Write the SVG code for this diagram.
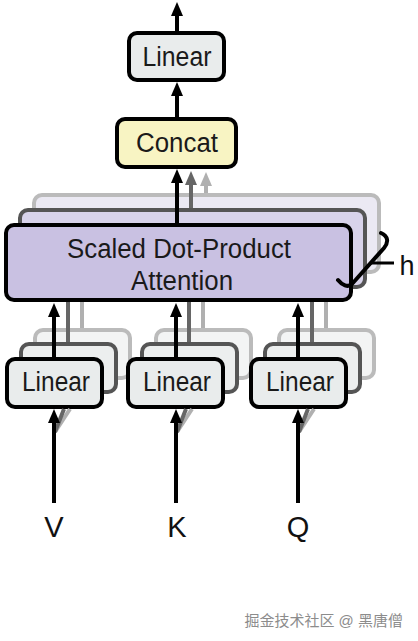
<svg xmlns="http://www.w3.org/2000/svg" width="418" height="641" viewBox="0 0 418 641">
<style>
.box{stroke:#000;stroke-width:4}
.lin{fill:#e9ecec}
.b2{stroke:#555;stroke-width:4}
.b3{stroke:#bbb;stroke-width:4}
.lin2{fill:#eceeee}
.lin3{fill:#f3f4f4}
.att{fill:#c9c1e2}
.att2{fill:#d8d3ea}
.att3{fill:#ebe9f3}
.t{font-family:"Liberation Sans",Arial,sans-serif;font-size:27px;fill:#1a1a1a;text-anchor:middle}
.big{font-family:"Liberation Sans",Arial,sans-serif;font-size:29px;fill:#111;text-anchor:middle}
.k{stroke:#000;stroke-width:4;fill:none}
.g1{stroke:#666;stroke-width:4;fill:none}
.g2{stroke:#b0b0b0;stroke-width:4;fill:none}
</style>
<defs>
<marker id="ak" viewBox="0 -6 14 12" refX="1" refY="0" markerWidth="14" markerHeight="12" markerUnits="userSpaceOnUse" orient="auto"><path d="M0,-6 L14,0 L0,6 z" fill="#000"/></marker>
<marker id="ag1" viewBox="0 -6 14 12" refX="1" refY="0" markerWidth="14" markerHeight="12" markerUnits="userSpaceOnUse" orient="auto"><path d="M0,-6 L14,0 L0,6 z" fill="#666"/></marker>
<marker id="ag2" viewBox="0 -6 14 12" refX="1" refY="0" markerWidth="14" markerHeight="12" markerUnits="userSpaceOnUse" orient="auto"><path d="M0,-6 L14,0 L0,6 z" fill="#b0b0b0"/></marker>
</defs>

<g id="attention">
<rect class="b3 att3" x="34" y="195" width="345" height="77" rx="8"/>
<rect class="b2 att2" x="20" y="210" width="345" height="77" rx="8"/>
<rect class="box att" x="6" y="225" width="345" height="75" rx="8"/>
<text class="t" x="179" y="258" textLength="224" lengthAdjust="spacingAndGlyphs">Scaled Dot-Product</text>
<text class="t" x="182" y="290" textLength="102" lengthAdjust="spacingAndGlyphs">Attention</text>
</g>

<g id="linear-v">
<rect class="b3 lin3" x="35" y="330" width="95" height="48" rx="8"/>
<rect class="b2 lin2" x="21" y="344" width="95" height="48" rx="8"/>
<rect class="box lin" x="7" y="359" width="95" height="48" rx="8"/>
<text class="t" x="56" y="391" textLength="68" lengthAdjust="spacingAndGlyphs">Linear</text>
</g>
<g id="linear-k">
<rect class="b3 lin3" x="156" y="330" width="95" height="48" rx="8"/>
<rect class="b2 lin2" x="142" y="344" width="95" height="48" rx="8"/>
<rect class="box lin" x="128" y="359" width="95" height="48" rx="8"/>
<text class="t" x="177" y="391" textLength="68" lengthAdjust="spacingAndGlyphs">Linear</text>
</g>
<g id="linear-q">
<rect class="b3 lin3" x="279" y="330" width="95" height="48" rx="8"/>
<rect class="b2 lin2" x="265" y="344" width="95" height="48" rx="8"/>
<rect class="box lin" x="251" y="359" width="95" height="48" rx="8"/>
<text class="t" x="300" y="391" textLength="68" lengthAdjust="spacingAndGlyphs">Linear</text>
</g>

<g id="concat">
<rect class="box" fill="#f8f4c3" x="117" y="119" width="119" height="48" rx="8"/>
<text class="t" x="177" y="152" textLength="82" lengthAdjust="spacingAndGlyphs">Concat</text>
</g>

<g id="linear-out">
<rect class="box lin" x="129" y="33" width="95" height="47" rx="8"/>
<text class="t" x="177" y="66" textLength="69" lengthAdjust="spacingAndGlyphs">Linear</text>
</g>

<g id="connectors">
<line class="k" x1="177" y1="31" x2="177" y2="15" marker-end="url(#ak)"/>
<line class="k" x1="177" y1="117" x2="177" y2="95" marker-end="url(#ak)"/>
<line class="k" x1="177" y1="223" x2="177" y2="182" marker-end="url(#ak)"/>
<line class="g1" x1="191" y1="208" x2="191" y2="184" marker-end="url(#ag1)"/>
<line class="g2" x1="206" y1="193" x2="206" y2="185" marker-end="url(#ag2)"/>

<line class="g1" x1="68" y1="342" x2="68" y2="302"/>
<line class="g2" x1="82" y1="328" x2="82" y2="302"/>
<line class="g1" x1="189" y1="342" x2="189" y2="302"/>
<line class="g2" x1="203" y1="328" x2="203" y2="302"/>
<line class="g1" x1="312" y1="342" x2="312" y2="302"/>
<line class="g2" x1="326" y1="328" x2="326" y2="302"/>
<line class="k" x1="54" y1="357" x2="54" y2="316" marker-end="url(#ak)"/>
<line class="k" x1="176" y1="357" x2="176" y2="316" marker-end="url(#ak)"/>
<line class="k" x1="298" y1="357" x2="298" y2="316" marker-end="url(#ak)"/>

<line class="g2" x1="55" y1="432" x2="70" y2="409" stroke-width="3"/>
<line class="g1" x1="55" y1="432" x2="64" y2="409" stroke-width="3"/>
<line class="g2" x1="177" y1="432" x2="192" y2="409" stroke-width="3"/>
<line class="g1" x1="177" y1="432" x2="186" y2="409" stroke-width="3"/>
<line class="g2" x1="299" y1="432" x2="314" y2="409" stroke-width="3"/>
<line class="g1" x1="299" y1="432" x2="308" y2="409" stroke-width="3"/>
<line class="k" x1="54" y1="503" x2="54" y2="422" marker-end="url(#ak)"/>
<line class="k" x1="176" y1="503" x2="176" y2="422" marker-end="url(#ak)"/>
<line class="k" x1="298" y1="503" x2="298" y2="422" marker-end="url(#ak)"/>
</g>

<g id="h-brace">
<path d="M381,233 C388,236 389,242 384,248 L352,284 C348,288 342,285 338,280" fill="none" stroke="#000" stroke-width="4" stroke-linecap="round"/>
<line x1="371" y1="263" x2="394" y2="263" stroke="#000" stroke-width="3"/>
<text x="407" y="275" font-family="Liberation Sans, Arial, sans-serif" font-size="27" fill="#111" text-anchor="middle">h</text>
</g>

<g id="labels">
<text class="big" x="54" y="537">V</text>
<text class="big" x="177" y="537">K</text>
<text class="big" x="298" y="537">Q</text>
</g>

<text x="403" y="626" font-family="'Liberation Sans','Noto Sans CJK SC',sans-serif" font-size="15" fill="#8c8c8c" text-anchor="end">掘金技术社区 @ 黑唐僧</text>
</svg>
